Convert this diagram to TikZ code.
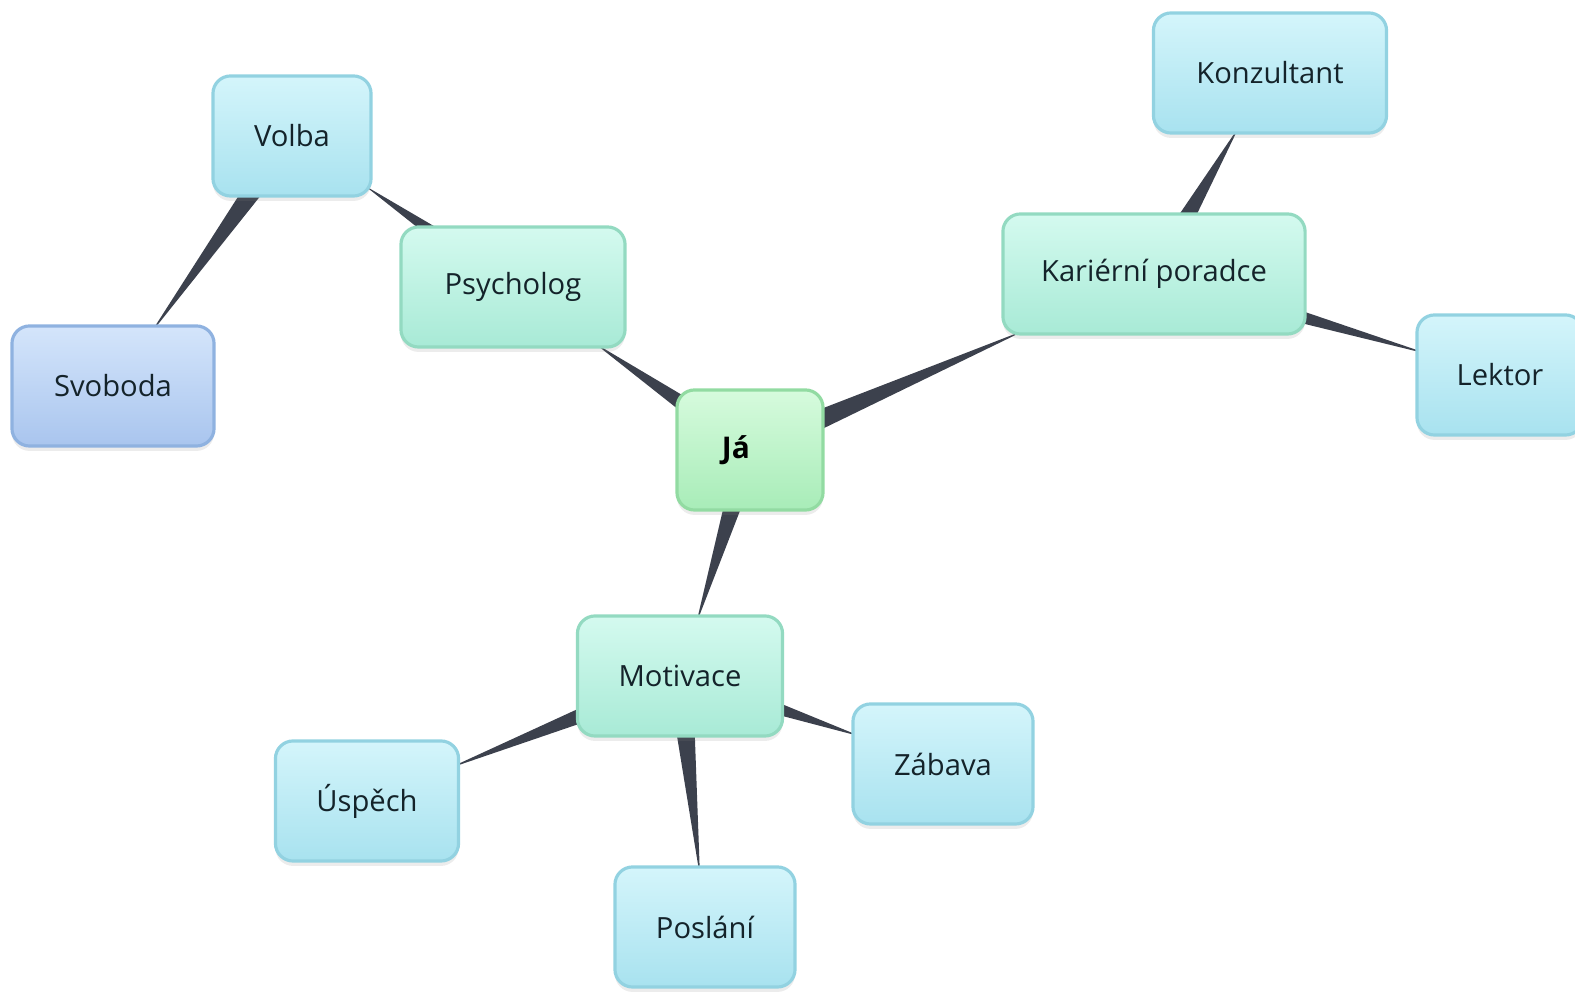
\documentclass[tikz,border=0pt]{standalone}
\usepackage{fontspec}
\setmainfont{Open Sans}
\usetikzlibrary{calc,shadows}
\definecolor{cyT}{HTML}{D4F5FB}\definecolor{cyB}{HTML}{A8E2EF}\definecolor{cyD}{HTML}{92D2E1}
\definecolor{gnT}{HTML}{D4FAEF}\definecolor{gnB}{HTML}{A8EAD6}\definecolor{gnD}{HTML}{93DAC1}
\definecolor{jaT}{HTML}{D6FBDD}\definecolor{jaB}{HTML}{A8ECB8}\definecolor{jaD}{HTML}{92DBA2}
\definecolor{blT}{HTML}{D4E5FB}\definecolor{blB}{HTML}{A9C5EE}\definecolor{blD}{HTML}{8FB2E0}
\definecolor{wedgecol}{HTML}{3C414D}
\definecolor{txt}{HTML}{14232A}
\pgfdeclarelayer{bg}
\pgfsetlayers{bg,main}
\tikzset{
  box/.style={rounded corners=5pt, line width=0.9pt, minimum height=1.2cm,
    inner sep=0pt, font=\fontsize{8.3}{10}\selectfont, text=txt,
    drop shadow={opacity=0.15, shadow xshift=0pt, shadow yshift=-1.4pt}},
  cybox/.style={box, draw=cyD, top color=cyT, bottom color=cyB},
  gnbox/.style={box, draw=gnD, top color=gnT, bottom color=gnB},
  jabox/.style={box, draw=jaD, top color=jaT, bottom color=jaB, text=black, font=\fontsize{8.5}{10}\selectfont\bfseries},
  blbox/.style={box, draw=blD, top color=blT, bottom color=blB},
  wedgefill/.style={fill=wedgecol}
}
\newcommand\wedgeconn[2]{%
  \path (#1.center) -- (#2) coordinate[pos=1] (t-#1-#2);
  \coordinate (u-#1-#2) at ($(#1.center)!1.06!(t-#1-#2)$);
  \fill[wedgefill] ($(#1.center)!3.6pt!90:(u-#1-#2)$) -- (u-#1-#2) -- ($(#1.center)!3.6pt!-90:(u-#1-#2)$) -- cycle;}
\begin{document}
\begin{tikzpicture}[x=0.01cm,y=-0.01cm]
\useasboundingbox (0,0) rectangle (1575,992);
\clip (0,0) rectangle (1575,992);
\node[jabox, minimum width=1.46cm] (ja) at (750,450) {\hspace*{-8pt}Já};
\node[gnbox, minimum width=2.24cm] (psy) at (513,287) {Psycholog};
\node[cybox, minimum width=1.58cm] (volba) at (292,136) {Volba};
\node[blbox, minimum width=2.02cm] (svo) at (113,386) {Svoboda};
\node[gnbox, minimum width=3.02cm] (kar) at (1154,274) {Kariérní poradce};
\node[cybox, minimum width=2.33cm] (konz) at (1270,73) {Konzultant};
\node[cybox, minimum width=1.66cm] (lek) at (1500,375) {Lektor};
\node[gnbox, minimum width=2.05cm] (mot) at (680,676) {Motivace};
\node[cybox, minimum width=1.83cm] (usp) at (367,801) {Úspěch};
\node[cybox, minimum width=1.80cm] (zab) at (943,764) {Zábava};
\node[cybox, minimum width=1.80cm] (pos) at (705,927) {Poslání};
\begin{pgfonlayer}{bg}
\wedgeconn{ja}{psy}
\wedgeconn{psy}{volba}
\wedgeconn{volba}{svo}
\wedgeconn{ja}{kar}
\wedgeconn{kar}{konz}
\wedgeconn{kar}{lek}
\wedgeconn{ja}{mot}
\wedgeconn{mot}{usp}
\wedgeconn{mot}{zab}
\wedgeconn{mot}{pos}
\end{pgfonlayer}
\end{tikzpicture}
\end{document}
